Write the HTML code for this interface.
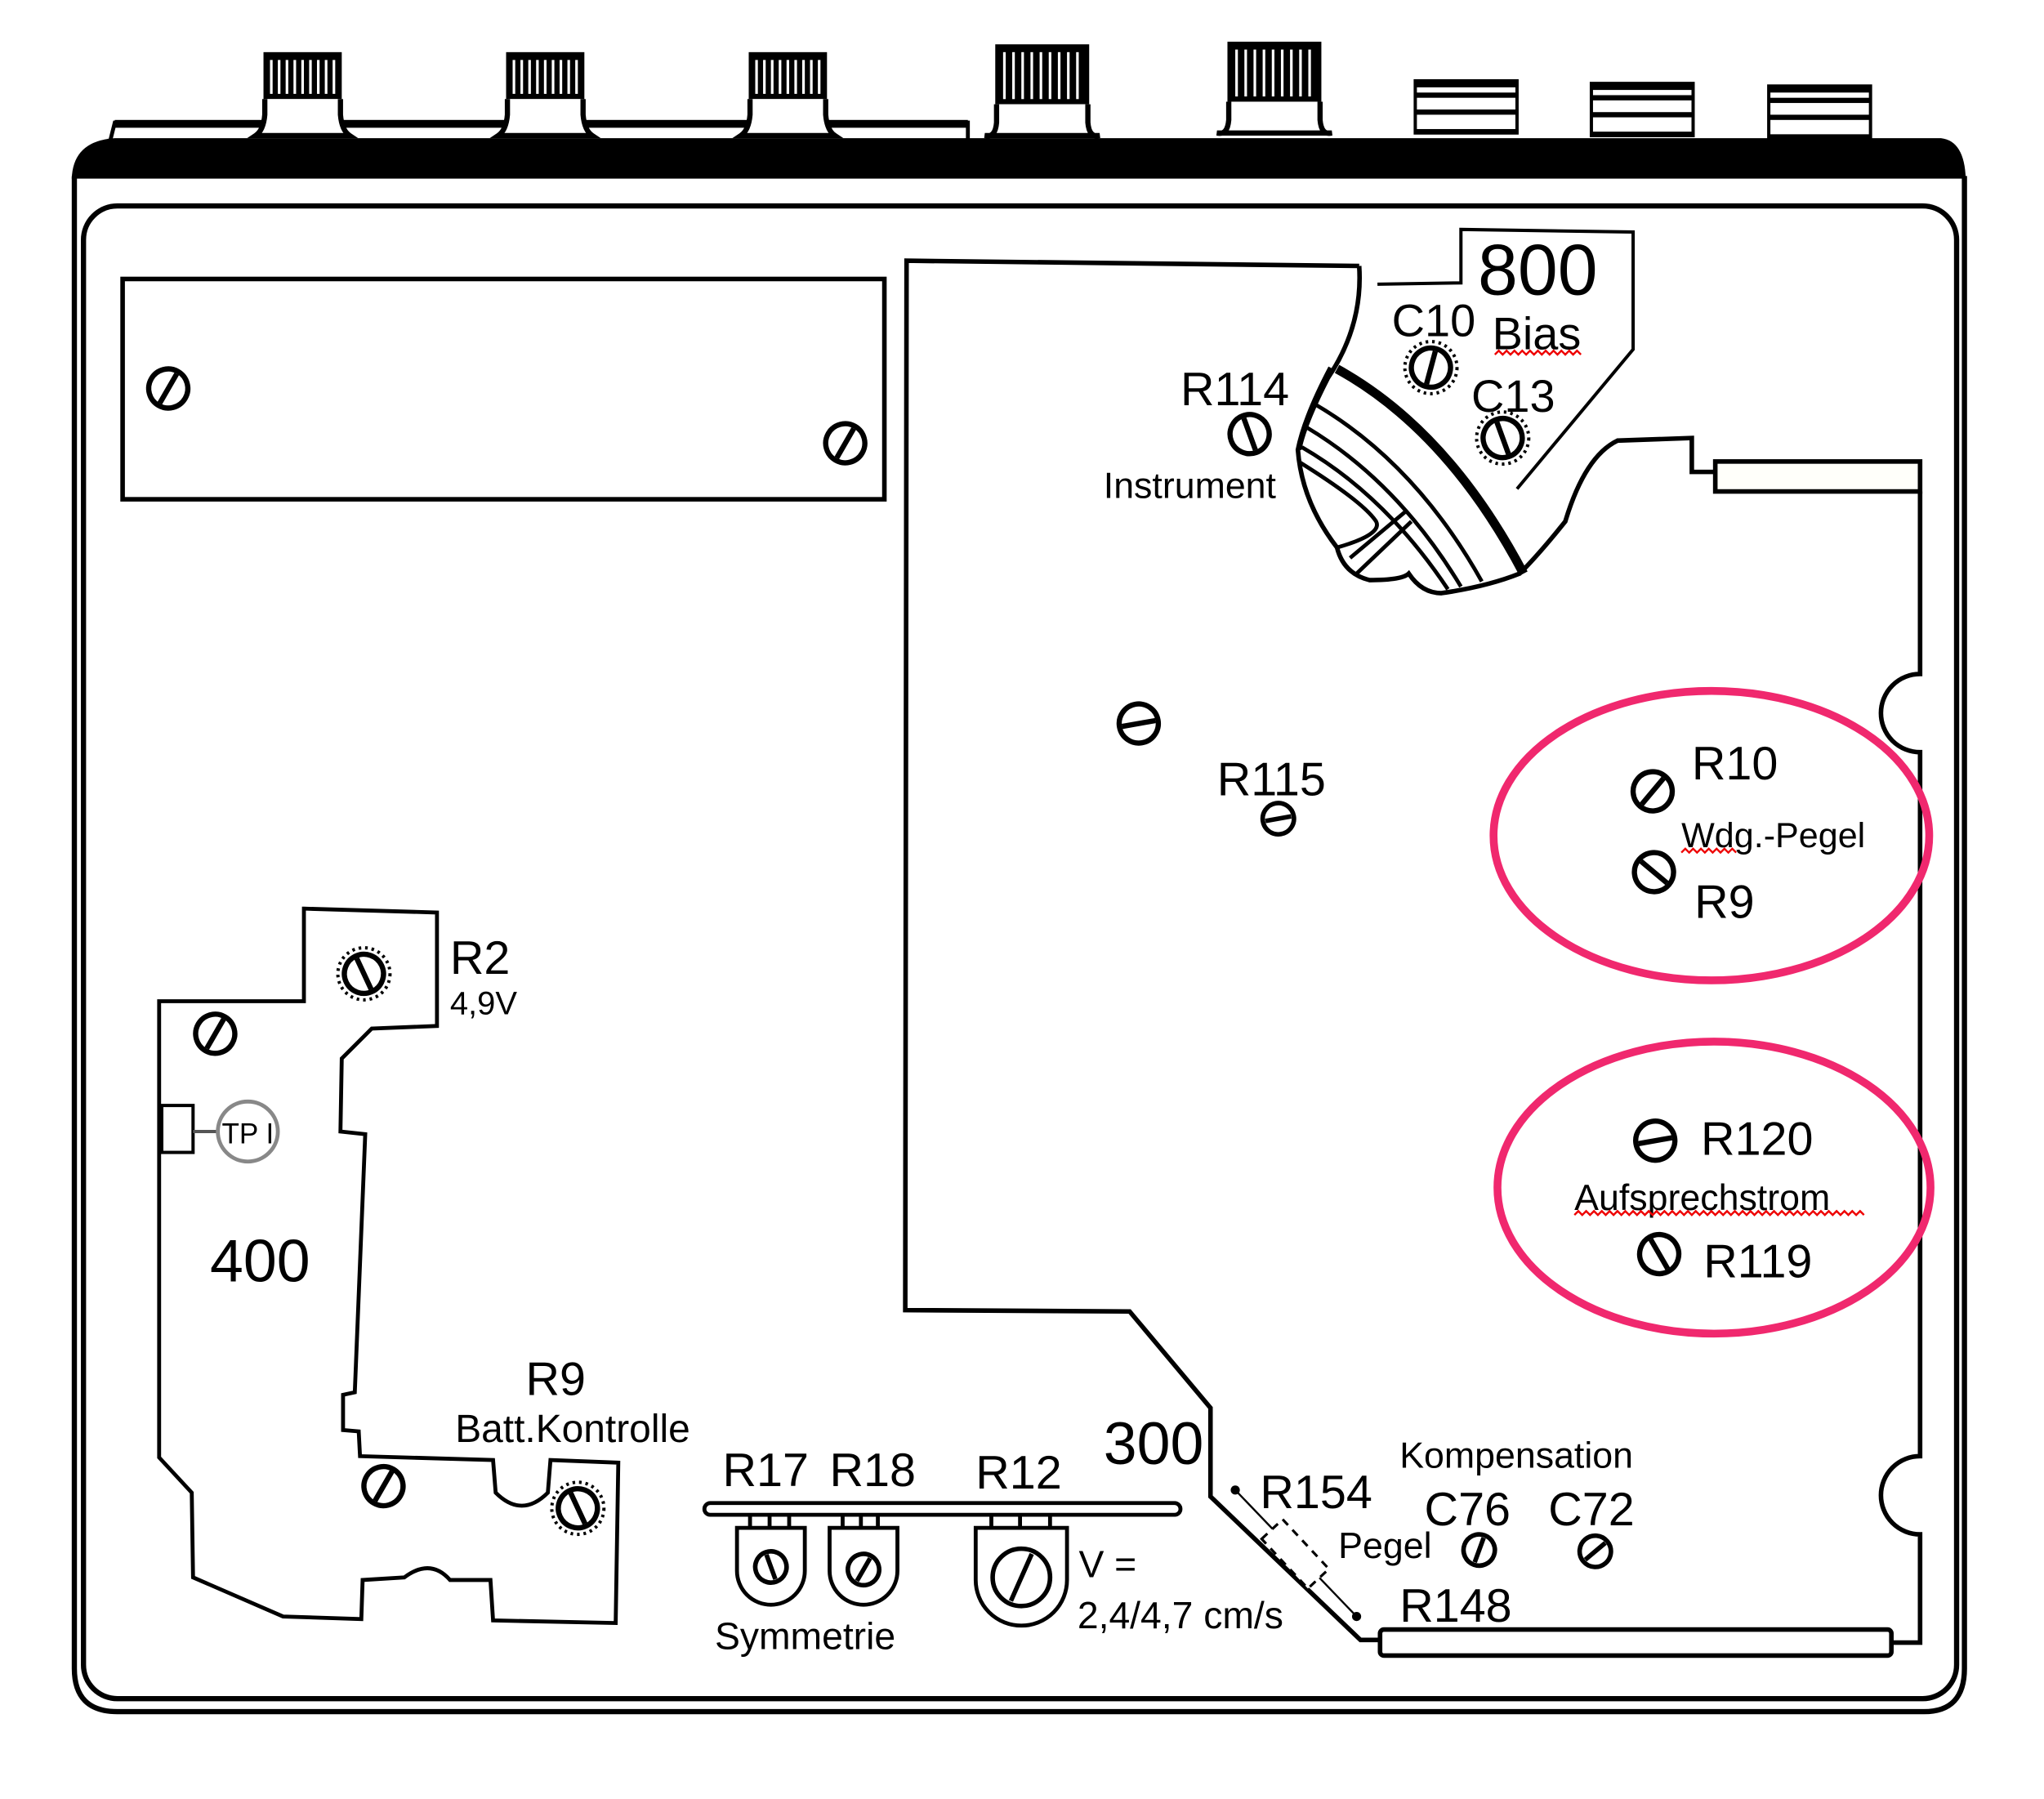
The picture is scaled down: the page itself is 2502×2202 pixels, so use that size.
<!DOCTYPE html>
<html><head><meta charset="utf-8"><style>
html,body{margin:0;padding:0;background:#fff;}
svg{display:block;}
text{font-family:"Liberation Sans",sans-serif;fill:#000;}
</style></head><body>
<svg width="2502" height="2202" viewBox="0 0 1567 1380" preserveAspectRatio="none" xmlns="http://www.w3.org/2000/svg">
<defs>
<g id="scr"><circle r="15" fill="#fff" stroke="#000" stroke-width="4"/><line x1="0" y1="-13" x2="0" y2="13" stroke="#000" stroke-width="4"/></g>
<g id="scrs"><circle r="12" fill="#fff" stroke="#000" stroke-width="3.5"/><line x1="0" y1="-10" x2="0" y2="10" stroke="#000" stroke-width="3.5"/></g>
<g id="knob"><rect x="0" y="0" width="60" height="36" fill="#000"/><g stroke="#fff" stroke-width="2"><line x1="6" y1="6" x2="6" y2="32"/><line x1="12" y1="6" x2="12" y2="32"/><line x1="18" y1="6" x2="18" y2="32"/><line x1="24" y1="6" x2="24" y2="32"/><line x1="30" y1="6" x2="30" y2="32"/><line x1="36" y1="6" x2="36" y2="32"/><line x1="42" y1="6" x2="42" y2="32"/><line x1="48" y1="6" x2="48" y2="32"/><line x1="54" y1="6" x2="54" y2="32"/></g><path d="M1,36 L1,48 Q0,60 -6,64 L66,64 Q60,60 59,48 L59,36" fill="#fff" stroke="#000" stroke-width="4"/></g>
<g id="knobT"><rect x="0" y="0" width="72" height="46" fill="#000"/><g stroke="#fff" stroke-width="2"><line x1="7" y1="6" x2="7" y2="42"/><line x1="14" y1="6" x2="14" y2="42"/><line x1="21" y1="6" x2="21" y2="42"/><line x1="28" y1="6" x2="28" y2="42"/><line x1="35" y1="6" x2="35" y2="42"/><line x1="42" y1="6" x2="42" y2="42"/><line x1="49" y1="6" x2="49" y2="42"/><line x1="56" y1="6" x2="56" y2="42"/><line x1="63" y1="6" x2="63" y2="42"/></g><path d="M1,46 L1,60 Q0,72 -8,70 L80,70 Q72,72 71,60 L71,46" fill="#fff" stroke="#000" stroke-width="4"/></g>
<g id="jack"><rect x="0" y="0" width="78" height="40" fill="#fff" stroke="#000" stroke-width="2.5"/><rect x="-1" y="0" width="80" height="5" fill="#000"/><rect x="-1" y="9" width="80" height="4" fill="#000"/><rect x="-1" y="22" width="80" height="4" fill="#000"/><rect x="-1" y="37" width="80" height="3" fill="#000"/></g>
</defs>
<path d="M88,94 L742,94 L742,108 L84,110 Z" fill="#fff" stroke="#000" stroke-width="3"/>
<rect x="88" y="92" width="654" height="6" fill="#000"/>
<use href="#knob" x="202" y="40"/>
<use href="#knob" x="388" y="40"/>
<use href="#knob" x="574" y="40"/>
<use href="#knobT" x="763" y="34"/>
<use href="#knobT" x="941" y="32"/>
<use href="#jack" x="1085" y="62"/>
<use href="#jack" x="1220" y="64"/>
<use href="#jack" x="1356" y="66"/>
<path d="M55,137 Q56,108 88,106 L1488,106 Q1506,108 1507,137 Z" fill="#000"/>
<path d="M57,135 L57,1280 Q57,1313 90,1313 L1475,1313 Q1506,1313 1506,1280 L1506,135" fill="none" stroke="#000" stroke-width="4"/>
<rect x="64" y="158" width="1436" height="1145" rx="26" fill="none" stroke="#000" stroke-width="4"/>
<rect x="94" y="214" width="584" height="169" fill="none" stroke="#000" stroke-width="3.5"/>
<use href="#scr" x="129" y="298" transform="rotate(30 129 298)"/>
<use href="#scr" x="648" y="340" transform="rotate(30 648 340)"/>
<path d="M1042,204 L695,200 L694,1005 L866,1006 L928,1080 L928,1148 L1043,1258 L1058,1258" fill="none" stroke="#000" stroke-width="3.5"/>
<path d="M1042,204 Q1045,250 1018,290 Q1000,325 996,345" fill="none" stroke="#000" stroke-width="3.5"/>
<path d="M1056,218 L1120,217 L1120,176 L1252,178 L1252,268 L1163,375" fill="none" stroke="#000" stroke-width="2.5"/>
<path d="M1020,282 Q1000,320 995,345 Q998,385 1025,420 Q1030,440 1050,445 Q1075,445 1080,440 Q1090,455 1105,455 Q1140,450 1165,440 Q1180,425 1200,400 Q1215,350 1240,338 L1297,336 L1297,362 L1315,362" fill="none" stroke="#000" stroke-width="3.5"/>
<path d="M1025,283 Q1110,330 1168,440" fill="none" stroke="#000" stroke-width="7"/>
<path d="M1008,310 Q1085,355 1136,446" fill="none" stroke="#000" stroke-width="3"/>
<path d="M1002,328 Q1072,370 1120,450" fill="none" stroke="#000" stroke-width="3"/>
<path d="M998,343 Q1062,380 1110,452" fill="none" stroke="#000" stroke-width="3"/>
<path d="M997,355 Q1045,385 1055,400 Q1060,410 1025,420" fill="none" stroke="#000" stroke-width="3"/>
<path d="M1035,428 L1078,392 M1040,440 L1082,400" fill="none" stroke="#000" stroke-width="3"/>
<rect x="1315" y="354" width="157" height="23" fill="#fffffa" stroke="#000" stroke-width="3.5"/>
<path d="M1472,377 L1472,517 A30,30 0 0 0 1472,577 L1472,1117 A30,30 0 0 0 1472,1177 L1472,1260 L1450,1260" fill="none" stroke="#000" stroke-width="3.5"/>
<rect x="1058" y="1250" width="392" height="20" rx="3" fill="#fff" stroke="#000" stroke-width="3.5"/>
<use href="#scr" x="958" y="333" transform="rotate(-20 958 333)"/>
<circle cx="1097" cy="282" r="20" fill="none" stroke="#000" stroke-width="2.5" stroke-dasharray="2,3"/>
<use href="#scr" x="1097" y="282" transform="rotate(15 1097 282)"/>
<circle cx="1152" cy="336" r="20" fill="none" stroke="#000" stroke-width="2.5" stroke-dasharray="2,3"/>
<use href="#scr" x="1152" y="336" transform="rotate(-20 1152 336)"/>
<use href="#scr" x="873" y="555" transform="rotate(80 873 555)"/>
<use href="#scrs" x="980" y="628" transform="rotate(80 980 628)"/>
<use href="#scr" x="1267" y="607" transform="rotate(40 1267 607)"/>
<use href="#scr" x="1268" y="669" transform="rotate(-50 1268 669)"/>
<use href="#scr" x="1269" y="875" transform="rotate(80 1269 875)"/>
<use href="#scr" x="1272" y="962" transform="rotate(-30 1272 962)"/>
<use href="#scrs" x="1134" y="1189" transform="rotate(20 1134 1189)"/>
<use href="#scrs" x="1223" y="1190" transform="rotate(50 1223 1190)"/>
<ellipse cx="1312" cy="641" rx="167" ry="111" fill="none" stroke="#f0286e" stroke-width="6"/>
<ellipse cx="1314" cy="911" rx="166" ry="112" fill="none" stroke="#f0286e" stroke-width="6"/>
<line x1="947" y1="1143" x2="1040" y2="1240" stroke="#000" stroke-width="1.5"/>
<circle cx="947" cy="1143" r="3.5"/><circle cx="1040" cy="1240" r="3.5"/>
<rect x="-11" y="-26" width="22" height="52" fill="#fff" stroke="#000" stroke-width="2" stroke-dasharray="6,5" transform="translate(993,1192) rotate(-43)"/>
<path d="M233,697 L335,700 L335,787 L285,789 L262,812 L261,868 L280,870 L272,1068 L263,1070 L263,1097 L275,1098 L276,1117 L378,1120 L380,1145 Q400,1165 420,1145 L422,1120 L474,1122 L472,1245 L378,1243 L376,1212 L345,1212 Q330,1195 310,1210 L278,1212 L277,1242 L217,1240 L148,1210 L147,1145 L122,1118 L122,768 L233,768 Z" fill="none" stroke="#000" stroke-width="3"/>
<circle cx="279" cy="747" r="20" fill="none" stroke="#000" stroke-width="2.5" stroke-dasharray="2,3"/>
<use href="#scr" x="279" y="747" transform="rotate(-25 279 747)"/>
<use href="#scr" x="165" y="793" transform="rotate(30 165 793)"/>
<use href="#scr" x="294" y="1140" transform="rotate(30 294 1140)"/>
<circle cx="443" cy="1157" r="20" fill="none" stroke="#000" stroke-width="2.5" stroke-dasharray="2,3"/>
<use href="#scr" x="443" y="1157" transform="rotate(-25 443 1157)"/>
<rect x="124" y="848" width="24" height="36" fill="#fff" stroke="#000" stroke-width="2.5"/>
<line x1="148" y1="868" x2="168" y2="868" stroke="#555" stroke-width="2.5"/>
<circle cx="190" cy="868" r="23" fill="none" stroke="#888" stroke-width="3"/>
<text x="190" y="877" font-size="22" text-anchor="middle" fill="#333">TP I</text>
<rect x="540" y="1153" width="365" height="9" rx="4.5" fill="#fff" stroke="#000" stroke-width="3"/>
<g fill="none" stroke="#000" stroke-width="3">
<path d="M575,1162 v10 M590,1162 v10 M605,1162 v10 M646,1162 v10 M660,1162 v10 M673,1162 v10 M760,1162 v10 M782,1162 v10 M805,1162 v10"/>
<path d="M565,1172 L617,1172 L617,1205 A26,26 0 0 1 565,1205 Z"/>
<path d="M636,1172 L688,1172 L688,1205 A26,26 0 0 1 636,1205 Z"/>
<path d="M748,1172 L818,1172 L818,1212 A35,35 0 0 1 748,1212 Z"/>
</g>
<use href="#scrs" x="591" y="1202" transform="rotate(-20 591 1202)"/>
<use href="#scrs" x="662" y="1204" transform="rotate(30 662 1204)"/>
<circle cx="783" cy="1210" r="22" fill="#fff" stroke="#000" stroke-width="3.5"/>
<line x1="775" y1="1228" x2="791" y2="1192" stroke="#000" stroke-width="3.5"/>
<text x="1133" y="226" font-size="55">800</text>
<text x="1067" y="258" font-size="35">C10</text>
<text x="1144" y="268" font-size="35">Bias</text>
<text x="1128" y="316" font-size="35">C13</text>
<text x="905" y="311" font-size="36">R114</text>
<text x="846" y="382" font-size="28">Instrument</text>
<text x="933" y="610" font-size="36">R115</text>
<text x="1297" y="598" font-size="36">R10</text>
<text x="1289" y="650" font-size="27">Wdg.-Pegel</text>
<text x="1299" y="704" font-size="36">R9</text>
<text x="1304" y="886" font-size="36">R120</text>
<text x="1207" y="928" font-size="28">Aufsprechstrom</text>
<text x="1306" y="980" font-size="36">R119</text>
<text x="345" y="747" font-size="36">R2</text>
<text x="345" y="778" font-size="25">4,9V</text>
<text x="161" y="983" font-size="46">400</text>
<text x="403" y="1070" font-size="36">R9</text>
<text x="349" y="1106" font-size="30">Batt.Kontrolle</text>
<text x="846" y="1123" font-size="46">300</text>
<text x="554" y="1140" font-size="36">R17</text>
<text x="636" y="1140" font-size="36">R18</text>
<text x="748" y="1142" font-size="36">R12</text>
<text x="548" y="1265" font-size="29">Symmetrie</text>
<text x="827" y="1210" font-size="29">V =</text>
<text x="826" y="1249" font-size="29">2,4/4,7 cm/s</text>
<text x="966" y="1157" font-size="36">R154</text>
<text x="1026" y="1195" font-size="28">Pegel</text>
<text x="1073" y="1126" font-size="28">Kompensation</text>
<text x="1092" y="1170" font-size="36">C76</text>
<text x="1187" y="1170" font-size="36">C72</text>
<text x="1073" y="1244" font-size="36">R148</text>
<g fill="none" stroke="#e00" stroke-width="1.5">
<path d="M1146,272 l3,-3 l3,3 l3,-3 l3,3 l3,-3 l3,3 l3,-3 l3,3 l3,-3 l3,3 l3,-3 l3,3 l3,-3 l3,3 l3,-3 l3,3 l3,-3 l3,3 l3,-3 l3,3 l3,-3 l3,3"/>
<path d="M1289,654 l3,-3 l3,3 l3,-3 l3,3 l3,-3 l3,3 l3,-3 l3,3 l3,-3 l3,3 l3,-3 l3,3 l3,-3 l3,3"/>
<path d="M1207,932 l3,-3 l3,3 l3,-3 l3,3 l3,-3 l3,3 l3,-3 l3,3 l3,-3 l3,3 l3,-3 l3,3 l3,-3 l3,3 l3,-3 l3,3 l3,-3 l3,3 l3,-3 l3,3 l3,-3 l3,3 l3,-3 l3,3 l3,-3 l3,3 l3,-3 l3,3 l3,-3 l3,3 l3,-3 l3,3 l3,-3 l3,3 l3,-3 l3,3 l3,-3 l3,3 l3,-3 l3,3 l3,-3 l3,3 l3,-3 l3,3 l3,-3 l3,3 l3,-3 l3,3 l3,-3 l3,3 l3,-3 l3,3 l3,-3 l3,3 l3,-3 l3,3 l3,-3 l3,3 l3,-3 l3,3 l3,-3 l3,3 l3,-3 l3,3 l3,-3 l3,3 l3,-3 l3,3 l3,-3 l3,3 l3,-3 l3,3 l3,-3 l3,3"/>
</g>
</svg>
</body></html>
